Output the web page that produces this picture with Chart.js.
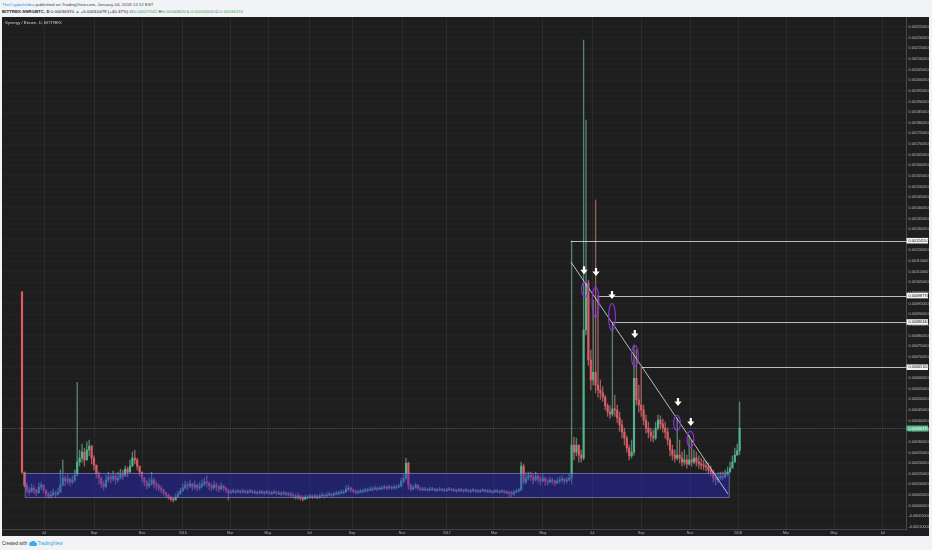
<!DOCTYPE html>
<html><head><meta charset="utf-8">
<script src="https://cdn.jsdelivr.net/npm/chart.js@4.4.1/dist/chart.umd.min.js"></script>
<style>
html,body{margin:0;padding:0;background:#f1f3f6;width:932px;height:550px;overflow:hidden;font-family:"Liberation Sans",Arial,sans-serif;position:relative}
#wrap{position:absolute;left:2px;top:17px;width:927px;height:519px;background:#1e1e1e}
canvas{display:block}
.h1{position:absolute;left:2px;top:1.6px;font-size:4.4px;line-height:5px;color:#444;white-space:nowrap}
.h2{position:absolute;left:2px;top:8.6px;font-size:4.4px;line-height:5px;color:#222;white-space:nowrap}
.usr{color:#2a8fe6}
.g{color:#3aa856}
.ftr{position:absolute;left:2px;top:541px;font-size:4.5px;line-height:5px;color:#333;white-space:nowrap}
.ftr svg{vertical-align:-1px}
.tv{color:#2a9fd8}
</style></head><body>
<div class="h1"><span class="usr">TheCryptoIsIdea</span> published on TradingView.com, January 04, 2018 12:12 EST</div>
<div class="h2"><b>BITTREX:SNRGBTC, D</b> 0.00036370 <span class="g">&#9650;</span> +0.00010479 (+40.47%) O:<span class="g">0.00027042</span> H:<span class="g">0.00048820</span> L:<span class="g">0.00024000</span> C:<span class="g">0.00036370</span></div>
<div id="wrap"><canvas id="c" width="927" height="519"></canvas></div>
<div class="ftr">Created with <svg width="8" height="5" viewBox="0 0 16 10"><path d="M4 10a4 4 0 0 1 0-8 5 5 0 0 1 9 1 3.5 3.5 0 0 1 0 7z" fill="#3bb0e0"/></svg> <span class="tv">TradingView</span></div>
<script>
// ---- time axis (bar index units, one unit = one daily bar) ----
const monthTickIdx = [52.5,115,175,226,285,332.5,384,437.5,500,556,615,676,737.5,799,860,920,980,1040,1101];
const monthTickLabels = ["Jul","Sep","Nov","2016","Mar","May","Jul","Sep","Nov","2017","Mar","May","Jul","Sep","Nov","2018","Mar","May","Jul"];
const firstBarIdx = 25;   // first candle position
const barStep = 3;        // candles sampled every 3 daily bars
const firstOpen = 1005;   // µBTC
// ---- series values in µBTC (1e-6 BTC) ----
const closeU = [
158,97,74,64,83,74,60,88,97,74,
55,46,50,60,55,64,97,130,116,125,
111,121,144,205,224,252,215,262,280,224,
191,149,130,102,88,121,135,125,139,121,
130,149,139,172,158,186,224,215,186,158,
130,111,93,102,121,102,93,83,74,60,
50,41,31,27,41,55,69,83,97,93,
102,88,97,83,93,102,111,107,93,83,
97,88,78,93,83,74,60,64,69,64,
69,64,69,64,64,69,64,64,60,64,
64,60,64,60,60,64,60,60,55,60,
55,55,50,46,41,46,36,31,41,41,
46,41,46,41,46,50,46,50,55,50,
55,60,60,64,64,78,83,74,69,64,
64,69,69,74,74,78,78,83,78,83,
83,88,83,88,83,88,88,93,116,130,
200,97,78,83,97,83,78,78,78,74,
78,78,74,74,78,74,74,74,78,74,
74,69,74,74,69,74,69,69,74,69,
69,69,74,69,69,69,64,69,69,64,
69,64,64,60,55,64,69,74,186,111,
130,144,135,121,139,125,116,130,116,111,
121,116,107,116,121,125,116,121,130,285,
252,285,238,224,826,1046,685,591,627,567,
544,530,510,470,440,430,455,450,413,379,
346,318,271,234,252,599,497,473,450,403,
365,346,327,318,365,403,384,365,346,309,
262,238,224,238,224,205,215,196,215,205,
224,205,196,191,186,182,168,158,130,121,
130,139,135,149,158,177,205,238,259,364];
const highU = [
1005,130,107,88,102,93,78,107,111,93,
74,64,69,78,69,83,168,215,140,144,
130,140,168,580,262,290,271,299,309,285,
234,186,158,135,116,144,158,149,163,149,
158,172,168,186,182,215,252,262,224,186,
158,135,121,130,158,130,116,102,93,78,
64,55,46,41,55,69,83,102,116,111,
121,107,116,102,111,121,130,140,111,102,
116,107,97,107,97,88,78,74,78,74,
78,74,78,74,74,78,74,74,69,74,
74,69,74,69,69,74,69,69,64,69,
64,64,64,60,55,60,50,46,50,50,
55,50,55,50,55,60,55,60,64,60,
64,69,69,74,74,93,97,88,78,74,
74,78,78,83,83,88,88,93,88,93,
93,97,93,97,93,97,97,102,130,149,
224,205,102,93,107,93,88,86,86,82,
86,86,82,82,86,82,82,82,86,82,
82,77,82,82,77,82,77,77,82,77,
77,77,82,77,77,77,72,77,77,72,
77,72,72,68,69,74,78,83,205,195,
154,158,158,149,158,149,140,149,135,125,
135,130,121,130,135,140,130,135,149,1245,
323,318,285,262,2189,1813,1060,732,967,1437,
988,591,560,520,480,470,863,520,473,440,
403,365,327,285,309,755,732,567,651,473,
426,393,365,356,393,426,422,407,393,365,
318,285,262,412,309,252,262,238,332,309,
262,252,234,224,215,210,201,186,168,149,
154,158,158,168,182,205,234,271,290,488];
const lowU = [
150,88,60,50,64,55,46,69,74,60,
41,36,36,46,41,50,64,93,93,102,
93,102,111,140,186,205,186,224,234,196,
168,130,102,83,74,93,111,107,116,102,
111,125,121,140,135,158,186,196,168,140,
111,93,78,83,97,83,74,69,60,50,
41,31,22,17,27,41,55,69,78,74,
83,74,78,69,74,83,93,88,74,69,
78,69,64,74,69,60,27,56,61,56,
61,56,61,56,56,61,56,56,52,56,
56,52,56,52,52,56,52,52,47,52,
47,47,41,36,31,31,27,22,31,33,
36,33,36,33,36,41,36,41,46,41,
46,50,50,55,55,64,69,64,60,55,
55,60,60,64,64,69,69,74,69,74,
74,78,74,78,74,78,78,83,88,107,
121,78,69,74,83,74,69,71,71,67,
71,71,67,67,71,67,67,67,71,67,
67,62,67,67,62,67,62,62,67,62,
62,62,67,62,62,62,57,62,62,57,
62,57,57,41,41,50,60,64,69,102,
102,121,116,102,116,107,97,111,97,97,
107,102,93,102,107,111,102,107,116,102,
215,234,205,205,215,803,660,544,567,530,
510,500,490,450,420,410,420,420,390,350,
318,285,252,215,224,238,473,440,420,380,
342,318,304,300,309,356,360,345,318,285,
234,215,205,215,201,186,191,177,191,186,
196,186,177,172,168,163,149,140,111,97,
107,121,121,130,140,158,186,215,238,240];
const lastPriceU = 363.70;
// ---- drawings (data units: bar index, µBTC) ----
const supportBox = {x0: 29, x1: 909, top: 152, bottom: 38};
const rayStartIdx = [711, 745, 764, 800];
const rayValuesU = [1245.5, 987.76, 863.4, 651.0];
const rayLabels = ["0.00124550","0.00098776","0.00086340","0.00065100"];
const trendIdx = [711.25, 907.5];
const trendValuesU = [1145, 55];
const arrowIdx = [727.5, 742.5, 762.5, 791, 845, 861];
const arrowValuesU = [1107, 1098, 990, 807, 487, 393];
const ellipseIdx = [728.75, 741.9, 762.5, 791, 843.75, 860.6];
const ellipseValuesU = [1018, 957, 887, 704, 389, 313];
const ellipseRy = [7.5, 15, 13.5, 10.5, 7.5, 8];

const UP = '#4fb488', DN = '#e25a63';
const toB = v => v / 1e6;
const idx = closeU.map((_, k) => firstBarIdx + barStep * k);
const opens = closeU.map((c, k) => k === 0 ? firstOpen : closeU[k - 1]);
const isUp = closeU.map((c, k) => c >= opens[k]);
const wickData = idx.map((x, k) => ({x, y: [toB(Math.min(lowU[k], opens[k], closeU[k])), toB(Math.max(highU[k], opens[k], closeU[k]))]}));
const bodyData = idx.map((x, k) => ({x, y: [toB(opens[k]), toB(closeU[k])]}));
const bodyColors = isUp.map(u => u ? UP : DN);
const wickColors = isUp.map(u => u ? 'rgba(120,200,160,0.6)' : 'rgba(230,140,140,0.6)');

Chart.defaults.font.family = "'Liberation Sans', Arial, sans-serif";

const drawPlugin = {
  id: 'drawings',
  beforeDraw(chart) {
    const ctx = chart.ctx; ctx.save(); ctx.fillStyle = '#1e1e1e'; ctx.fillRect(0, 0, chart.width, chart.height); ctx.restore();
  },
  afterDatasetsDraw(chart) {
    const ctx = chart.ctx, xs = chart.scales.x, ys = chart.scales.y, a = chart.chartArea;
    const X = v => xs.getPixelForValue(v), Y = v => ys.getPixelForValue(toB(v));
    ctx.save();
    ctx.beginPath(); ctx.rect(a.left, a.top, a.right - a.left, a.bottom - a.top); ctx.clip();
    // last price line
    const py = Math.round(Y(lastPriceU)) + 0.5;
    ctx.strokeStyle = 'rgba(150,150,150,0.5)'; ctx.lineWidth = 0.8; ctx.setLineDash([1.5, 1]);
    ctx.beginPath(); ctx.moveTo(a.left, py); ctx.lineTo(a.right, py); ctx.stroke(); ctx.setLineDash([]);
    // support box
    const bx0 = X(supportBox.x0), bx1 = X(supportBox.x1), by0 = Y(supportBox.top), by1 = Y(supportBox.bottom);
    ctx.fillStyle = 'rgba(40,40,200,0.45)'; ctx.fillRect(bx0, by0, bx1 - bx0, by1 - by0);
    ctx.strokeStyle = 'rgba(150,150,215,0.75)'; ctx.lineWidth = 0.8; ctx.strokeRect(bx0, by0, bx1 - bx0, by1 - by0);
    // horizontal rays
    ctx.strokeStyle = 'rgba(225,225,225,0.9)'; ctx.lineWidth = 0.9;
    rayStartIdx.forEach((x, i) => { const y = Math.round(Y(rayValuesU[i])) + 0.5; ctx.beginPath(); ctx.moveTo(X(x), y); ctx.lineTo(a.right, y); ctx.stroke(); });
    // trend line
    ctx.beginPath(); ctx.moveTo(X(trendIdx[0]), Y(trendValuesU[0])); ctx.lineTo(X(trendIdx[1]), Y(trendValuesU[1])); ctx.stroke();
    // ellipses
    ctx.strokeStyle = 'rgba(140,50,220,0.95)'; ctx.lineWidth = 1.2;
    ellipseIdx.forEach((x, i) => { ctx.beginPath(); ctx.ellipse(X(x), Y(ellipseValuesU[i]), 3.4, ellipseRy[i], 0, 0, Math.PI * 2); ctx.stroke(); });
    // arrows
    ctx.fillStyle = '#ffffff';
    arrowIdx.forEach((x, i) => {
      const cx = X(x), cy = Y(arrowValuesU[i]);
      ctx.beginPath();
      ctx.moveTo(cx - 1.1, cy - 4); ctx.lineTo(cx + 1.1, cy - 4); ctx.lineTo(cx + 1.1, cy - 0.5);
      ctx.lineTo(cx + 3.6, cy - 0.5); ctx.lineTo(cx, cy + 4); ctx.lineTo(cx - 3.6, cy - 0.5); ctx.lineTo(cx - 1.1, cy - 0.5);
      ctx.closePath(); ctx.fill();
    });
    ctx.restore();
  },
  afterDraw(chart) {
    const ctx = chart.ctx, ys = chart.scales.y, a = chart.chartArea;
    const Y = v => ys.getPixelForValue(toB(v));
    ctx.save();
    ctx.font = "4.2px 'Liberation Sans', Arial, sans-serif"; ctx.fillStyle = '#cfcfcf'; ctx.textBaseline = 'middle'; ctx.textAlign = 'left';
    ctx.fillText('Synergy / Bitcoin, D, BITTREX', 3, 6);
    const box = (v, txt, bg, fg) => {
      const y = Y(v);
      ctx.fillStyle = bg; ctx.fillRect(a.right + 0.5, y - 2.8, chart.width - a.right - 1.5, 5.6);
      ctx.fillStyle = fg; ctx.font = "3.8px 'Liberation Sans', Arial, sans-serif"; ctx.textBaseline = 'middle';
      ctx.fillText(txt, a.right + 2.5, y + 0.2);
    };
    rayValuesU.forEach((v, i) => box(v, rayLabels[i], '#f4f4f4', '#1a1a1a'));
    box(lastPriceU, (lastPriceU / 1e6).toFixed(8), '#53b987', '#ffffff');
    ctx.restore();
  }
};

new Chart(document.getElementById('c'), {
  type: 'bar',
  data: {
    datasets: [
      {data: wickData, backgroundColor: wickColors, barThickness: 0.7, grouped: false, borderWidth: 0, order: 2},
      {data: bodyData, backgroundColor: bodyColors, barThickness: 1.5, grouped: false, borderWidth: 0, minBarLength: 0.8, order: 1}
    ]
  },
  options: {
    responsive: false, animation: false, devicePixelRatio: 1,
    layout: {padding: 0},
    plugins: {legend: {display: false}, tooltip: {enabled: false}, title: {display: false}},
    scales: {
      x: {
        type: 'linear', min: 0, max: 1130, offset: false,
        grid: {color: 'rgba(255,255,255,0.06)', drawTicks: false, offset: false},
        border: {color: '#444444'},
        ticks: {autoSkip: false, maxRotation: 0, padding: 2, color: '#b8b8b8', font: {size: 3.6},
          callback: (v, i) => monthTickLabels[i]},
        afterBuildTicks: s => { s.ticks = monthTickIdx.map(v => ({value: v})); },
        afterFit: s => { s.height = 7; s.paddingLeft = 0; s.paddingRight = 0; }
      },
      y: {
        position: 'right', min: -0.0001095, max: 0.002297,
        grid: {color: 'rgba(255,255,255,0.022)', drawTicks: false},
        border: {color: '#4a4a4a'},
        ticks: {stepSize: 0.00005, includeBounds: false, autoSkip: false, padding: 2.5, color: '#b8b8b8', font: {size: 3.8},
          callback: v => Number(v).toFixed(8)},
        afterFit: s => { s.width = 23; s.paddingTop = 0; s.paddingBottom = 0; }
      }
    }
  },
  plugins: [drawPlugin]
});
</script>
</body></html>
